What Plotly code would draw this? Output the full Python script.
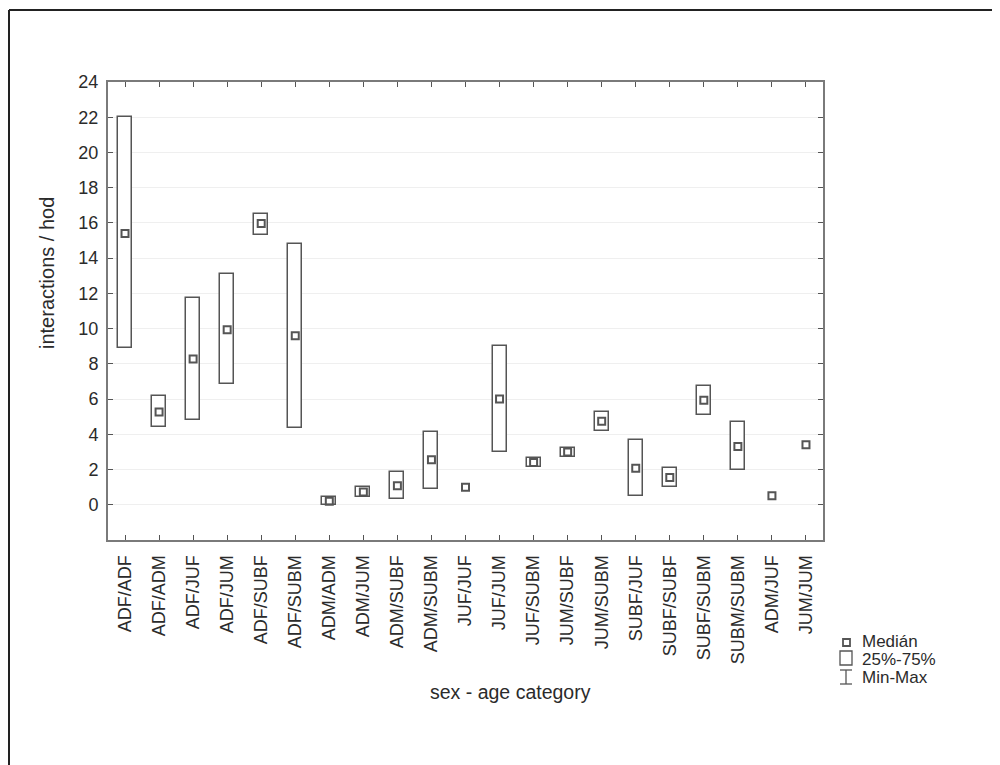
import plotly.graph_objects as go

categories = ["ADF/ADF", "ADF/ADM", "ADF/JUF", "ADF/JUM", "ADF/SUBF", "ADF/SUBM",
              "ADM/ADM", "ADM/JUM", "ADM/SUBF", "ADM/SUBM", "JUF/JUF", "JUF/JUM",
              "JUF/SUBM", "JUM/SUBF", "JUM/SUBM", "SUBF/JUF", "SUBF/SUBF", "SUBF/SUBM",
              "SUBM/SUBM", "ADM/JUF", "JUM/JUM"]
median = [15.4, 5.26, 8.28, 9.94, 15.97, 9.6,
          0.2, 0.72, 1.08, 2.56, 1.0, 6.0,
          2.4, 2.99, 4.74, 2.08, 1.55, 5.93,
          3.31, 0.51, 3.41]
q1 = [8.9, 4.39, 4.81, 6.86, 15.34, 4.35,
      0.0, 0.44, 0.32, 0.91, None, 2.99,
      2.14, 2.71, 4.17, 0.47, 1.0, 5.08,
      1.95, None, None]
q3 = [22.03, 6.15, 11.74, 13.12, 16.53, 14.83,
      0.45, 1.0, 1.86, 4.13, None, 9.0,
      2.65, 3.22, 5.26, 3.66, 2.08, 6.76,
      4.7, None, None]
y_ticks = list(range(0, 25, 2))

FONT = "Liberation Sans, Arial, sans-serif"
TXT = "#2b2b2b"
EDGE = "#555555"

# page offset introduced by the default body margin of the html page
OFF = 8
W, H = 1000 - OFF, 765 - OFF
# plot area geometry in page pixels (reference)
PL, PR, PT, PB = 108, 823, 82, 540
L, R, T, B = PL - OFF, PR - OFF, PT - OFF, PB - OFF


def px_x(px):
    return (px - PL) / (PR - PL)


def px_y(py):
    return (PB - py) / (PB - PT)


heights = [None if (a is None or b is None) else b - a for a, b in zip(q1, q3)]

fig = go.Figure()
fig.add_trace(go.Bar(
    x=categories, y=heights, base=q1, width=0.41,
    marker=dict(color="white", line=dict(color=EDGE, width=1.5)),
    showlegend=False, hoverinfo="skip"))
fig.add_trace(go.Scatter(
    x=categories, y=median, mode="markers",
    marker=dict(symbol="square-open", size=7, color=EDGE, line=dict(width=2, color=EDGE)),
    showlegend=False))

shapes = []
# figure border (top and left)
shapes.append(dict(type="line", xref="paper", yref="paper",
                   x0=px_x(9), x1=px_x(1000), y0=px_y(10), y1=px_y(10),
                   line=dict(color="#222", width=2)))
shapes.append(dict(type="line", xref="paper", yref="paper",
                   x0=px_x(9), x1=px_x(9), y0=px_y(10), y1=px_y(765),
                   line=dict(color="#222", width=2)))
# legend glyphs
shapes.append(dict(type="rect", xref="paper", yref="paper",
                   x0=px_x(843), x1=px_x(850), y0=px_y(646), y1=px_y(639),
                   line=dict(color=EDGE, width=1.8), fillcolor="white"))
shapes.append(dict(type="rect", xref="paper", yref="paper",
                   x0=px_x(840), x1=px_x(852), y0=px_y(665), y1=px_y(651),
                   line=dict(color=EDGE, width=1.3), fillcolor="white"))
shapes.append(dict(type="line", xref="paper", yref="paper",
                   x0=px_x(846), x1=px_x(846), y0=px_y(684), y1=px_y(670),
                   line=dict(color=EDGE, width=1.3)))
shapes.append(dict(type="line", xref="paper", yref="paper",
                   x0=px_x(840), x1=px_x(852), y0=px_y(670), y1=px_y(670),
                   line=dict(color=EDGE, width=1.3)))
shapes.append(dict(type="line", xref="paper", yref="paper",
                   x0=px_x(840), x1=px_x(852), y0=px_y(684), y1=px_y(684),
                   line=dict(color=EDGE, width=1.3)))

legend_items = [("Medián", 641), ("25%-75%", 659), ("Min-Max", 677)]
annotations = []
for txt, yc in legend_items:
    annotations.append(dict(text=txt, xref="paper", yref="paper", x=px_x(860), y=px_y(yc),
                            xanchor="left", yanchor="middle", showarrow=False,
                            font=dict(family=FONT, size=17, color=TXT)))
annotations.append(dict(text="interactions / hod", xref="paper", yref="paper",
                        x=px_x(47), y=px_y(273), textangle=-90, showarrow=False,
                        xanchor="center", yanchor="middle",
                        font=dict(family=FONT, size=20, color=TXT)))
annotations.append(dict(text="sex - age category", xref="paper", yref="paper",
                        x=px_x(510), y=px_y(692), showarrow=False,
                        xanchor="center", yanchor="middle",
                        font=dict(family=FONT, size=19.5, color=TXT)))

fig.update_layout(
    width=W, height=H,
    margin=dict(l=L, r=W - R, t=T, b=H - B, autoexpand=False),
    paper_bgcolor="white", plot_bgcolor="white",
    font=dict(family=FONT, size=18, color=TXT),
    shapes=shapes, annotations=annotations,
    bargap=0, showlegend=False,
)
fig.update_xaxes(
    type="category", categoryorder="array", categoryarray=categories,
    range=[-0.5, len(categories) - 0.5],
    showline=True, linecolor="#7a7a7a", linewidth=2, mirror="ticks",
    ticks="inside", ticklen=5, tickcolor="#555", tickwidth=1,
    tickangle=-90, showgrid=False, ticklabelstandoff=6,
    tickfont=dict(family=FONT, size=18, color=TXT),
)
fig.update_yaxes(
    range=[-2, 24], tickvals=y_ticks, ticktext=[str(v) for v in y_ticks],
    showline=True, linecolor="#7a7a7a", linewidth=2, mirror="ticks",
    ticks="inside", ticklen=5, tickcolor="#555", tickwidth=1,
    showgrid=True, gridcolor="#efefef", gridwidth=1, zeroline=False,
    ticklabelstandoff=4,
    tickfont=dict(family=FONT, size=18, color=TXT),
)

fig.write_html("out.html")
